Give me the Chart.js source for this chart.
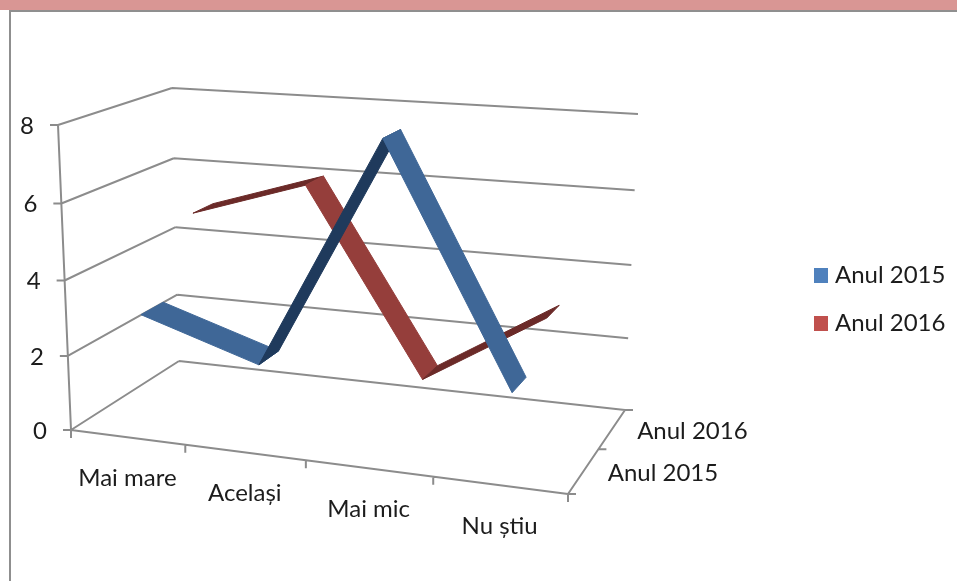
<!DOCTYPE html>
<html>
<head>
<meta charset="utf-8">
<style>
    html, body { margin: 0; padding: 0; background: #fff; }
    #strip { position: absolute; left: 0; top: 0; width: 957px; height: 10px; background: #d99694; }
    #rule { position: absolute; left: 9px; top: 10px; width: 948px; height: 2px; background: #8f8f8f; }
    #side { position: absolute; left: 9px; top: 10px; width: 2px; height: 571px; background: #8f8f8f; }
    #myChart { position: absolute; left: 0; top: 0; }
</style>
<script src="https://cdn.jsdelivr.net/npm/chart.js@4/dist/chart.umd.min.js"></script>
</head>
<body>
<div id="strip"></div>
<div id="rule"></div>
<div id="side"></div>
<canvas id="myChart" width="957" height="581"></canvas>
<script>
var categories = ['Mai mare', 'Același', 'Mai mic', 'Nu știu'];
var seriesNames = ['Anul 2015', 'Anul 2016'];
var anul2015 = [3, 2, 8, 2];
var anul2016 = [5, 6, 1, 3];
var valueTicks = [0, 2, 4, 6, 8];
var maxValue = 8;

var lightBlue = '#3f6797', darkBlue = '#1f3a5c';
var lightRed = '#953e3b', darkRed = '#6b2a28';
var gridColor = '#8c8c8c';
var textColor = '#1c1c1c';
var labelFont = '24px Lato, "Open Sans", sans-serif';

// box corners on screen: front left, front right, back right, back left
var floorQuad = [[71, 430], [568, 494], [625, 410], [179, 361]];
var topQuad = [[58, 125], [577, 159], [638, 114], [172, 88]];

// how deep each ribbon sits in the box
var band2015 = [0.15, 0.35];
var band2016 = [0.65, 0.85];

// unit square to quad
var homography = function (q) {
    var dx1 = q[1][0] - q[2][0], dx2 = q[3][0] - q[2][0], sx = q[0][0] - q[1][0] + q[2][0] - q[3][0];
    var dy1 = q[1][1] - q[2][1], dy2 = q[3][1] - q[2][1], sy = q[0][1] - q[1][1] + q[2][1] - q[3][1];
    var den = dx1 * dy2 - dx2 * dy1;
    var g = (sx * dy2 - dx2 * sy) / den;
    var h = (dx1 * sy - sx * dy1) / den;
    return function (u, v) {
        var w = g * u + h * v + 1;
        return {
            x: ((q[1][0] - q[0][0] + g * q[1][0]) * u + (q[3][0] - q[0][0] + h * q[3][0]) * v + q[0][0]) / w,
            y: ((q[1][1] - q[0][1] + g * q[1][1]) * u + (q[3][1] - q[0][1] + h * q[3][1]) * v + q[0][1]) / w
        };
    };
};
var floorMap = homography(floorQuad);
var topMap = homography(topQuad);

// u along the categories, depth into the box, value up the wall
var project = function (u, depth, value) {
    var a = floorMap(u, depth), b = topMap(u, depth), r = value / maxValue;
    // the upper gridlines sit a bit further apart than the lower ones
    var t = r / (1.04 - 0.04 * r);
    return { x: a.x + (b.x - a.x) * t, y: a.y + (b.y - a.y) * t };
};
var catU = function (i) { return (i + 0.5) / categories.length; };

// grid, axes and tick marks all go in one dataset, NaN breaks the line
var gap = { x: NaN, y: NaN };
var gridPoints = [];
var addLine = function (p, q) { gridPoints.push(p, q, gap); };

valueTicks.forEach(function (v) {
    addLine(project(0, 0, v), project(0, 1, v));
    addLine(project(0, 1, v), project(1, 1, v));
    var p = project(0, 0, v);
    addLine(p, { x: p.x - 8, y: p.y });
});
addLine(project(0, 0, 0), project(0, 0, maxValue));
addLine(project(0, 0, 0), project(1, 0, 0));
addLine(project(1, 0, 0), project(1, 1, 0));
for (var i = 0; i <= categories.length; i++) {
    var c = project(i / categories.length, 0, 0);
    addLine(c, { x: c.x, y: c.y + 8 });
}
[0, 0.5, 1].forEach(function (d) {
    var e = project(1, d, 0);
    addLine(e, { x: e.x + 8, y: e.y });
});

var datasets = [{
    data: gridPoints,
    showLine: true,
    borderColor: gridColor,
    borderWidth: 2,
    pointRadius: 0,
    fill: false
}];

// one flat quad per segment, dark when the ribbon rises and we see under it
var addRibbon = function (values, band, light, dark) {
    for (var s = 0; s < values.length - 1; s++) {
        var color = values[s + 1] > values[s] ? dark : light;
        datasets.push({
            data: [
                project(catU(s), band[0], values[s]),
                project(catU(s + 1), band[0], values[s + 1]),
                project(catU(s + 1), band[1], values[s + 1]),
                project(catU(s), band[1], values[s]),
                project(catU(s), band[0], values[s])
            ],
            showLine: true,
            tension: 0,
            fill: 'shape',
            backgroundColor: color,
            borderColor: color,
            borderWidth: 1,
            pointRadius: 0
        });
    }
};
addRibbon(anul2016, band2016, lightRed, darkRed);
addRibbon(anul2015, band2015, lightBlue, darkBlue);

// later quads paint over earlier ones
datasets.forEach(function (d, idx) { d.order = -idx; });

var labelsPlugin = {
    id: 'labels3d',
    afterDatasetsDraw: function (chart) {
        var ctx = chart.ctx;
        var sx = chart.scales.x, sy = chart.scales.y;
        var put = function (text, x, y, align) {
            ctx.textAlign = align;
            ctx.fillText(text, sx.getPixelForValue(x), sy.getPixelForValue(y));
        };
        ctx.save();
        ctx.font = labelFont;
        ctx.fillStyle = textColor;
        ctx.textBaseline = 'middle';
        valueTicks.forEach(function (v) {
            var p = project(0, 0, v);
            put(String(v), p.x - 24, p.y + 1, 'right');
        });
        categories.forEach(function (name, idx) {
            var p = project(catU(idx), 0, 0);
            put(name, p.x, p.y + 41, 'center');
        });
        seriesNames.forEach(function (name, idx) {
            var p = project(1, idx === 0 ? 0.25 : 0.75, 0);
            put(name, p.x + (idx === 0 ? 24 : 25), p.y + 2, 'left');
        });
        // legend
        var swatches = ['#4f81bd', '#c0504d'];
        seriesNames.forEach(function (name, idx) {
            var y = 275 + idx * 48;
            ctx.fillStyle = swatches[idx];
            ctx.fillRect(sx.getPixelForValue(814), sy.getPixelForValue(y - 7), 14, 15);
            ctx.fillStyle = textColor;
            put(name, 835, y, 'left');
        });
        ctx.restore();
    }
};

new Chart(document.getElementById('myChart').getContext('2d'), {
    type: 'scatter',
    data: { datasets: datasets },
    plugins: [labelsPlugin],
    options: {
        responsive: false,
        animation: false,
        layout: { padding: 0 },
        plugins: { legend: { display: false }, tooltip: { enabled: false } },
        scales: {
            x: { type: 'linear', display: false, min: 0, max: 957 },
            y: { type: 'linear', display: false, min: 0, max: 581, reverse: true }
        }
    }
});
</script>
</body>
</html>
